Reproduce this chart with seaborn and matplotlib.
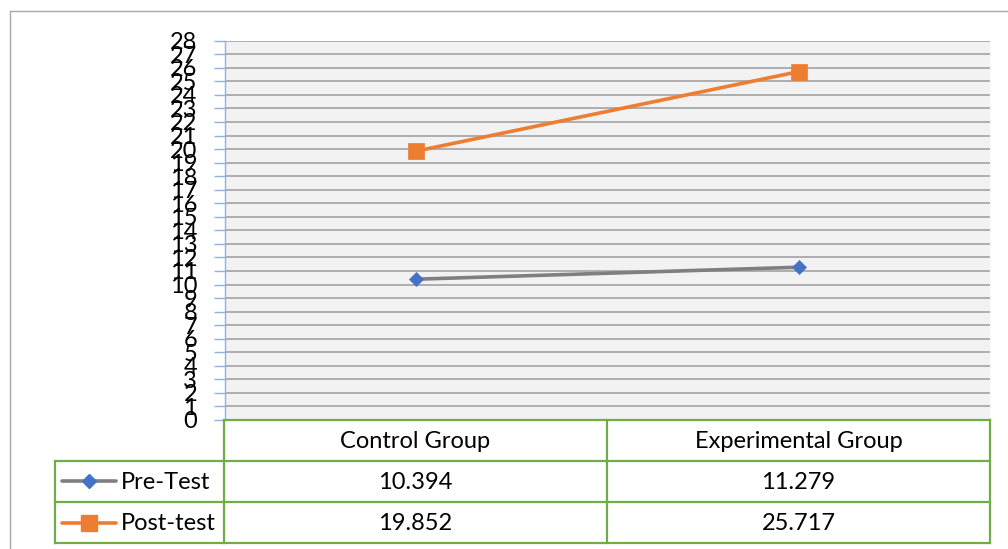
import matplotlib
matplotlib.use("Agg")
import matplotlib.pyplot as plt
import seaborn as sns
import pandas as pd

categories = ["Control Group", "Experimental Group"]
pre_test = [10.394, 11.279]
post_test = [19.852, 25.717]
series_names = ["Pre-Test", "Post-test"]
value_labels = [["10.394", "11.279"], ["19.852", "25.717"]]
y_ticks = list(range(0, 29))

sns.set_theme(style="white")
plt.rcParams["font.family"] = ["Lato", "DejaVu Sans"]

W, H = 1008, 549
fig = plt.figure(figsize=(W / 100, H / 100), dpi=100)

# pixel layout
L, R, T, B = 225, 990, 40.7, 420
ax = fig.add_axes([L / W, 1 - B / H, (R - L) / W, (B - T) / H])
ax.set_facecolor("#f2f2f2")

GREY = "#7f7f7f"
BLUE = "#4472c4"
ORANGE = "#ed7d31"
GREEN = "#70ad47"

df_pre = pd.DataFrame({"group": categories, "score": pre_test})
df_post = pd.DataFrame({"group": categories, "score": post_test})

sns.lineplot(data=df_pre, x="group", y="score", ax=ax, color=GREY, lw=2.6,
             marker="D", markersize=7.5, markerfacecolor=BLUE,
             markeredgecolor=BLUE, markeredgewidth=0.5, zorder=3)
sns.lineplot(data=df_post, x="group", y="score", ax=ax, color=ORANGE, lw=2.6,
             marker="s", markersize=12, markerfacecolor=ORANGE,
             markeredgecolor=ORANGE, markeredgewidth=0.5, zorder=3)

ax.set_xlim(-0.5, 1.5)
ax.set_ylim(0, 28)
ax.set_yticks(y_ticks)
ax.set_yticklabels([str(t) for t in y_ticks], fontsize=17, color="black")
ax.set_xticks([])
ax.set_xlabel("")
ax.set_ylabel("")
ax.grid(axis="y", color="#a2a2a2", lw=1.2)
ax.set_axisbelow(True)
for s in ["top", "right", "bottom"]:
    ax.spines[s].set_visible(False)
ax.spines["left"].set_color("#8db3e2")
ax.spines["left"].set_linewidth(1.0)
ax.tick_params(axis="y", length=8, width=1.0, color="#8db3e2", pad=12,
               left=True, direction="out")

# overlay in pixel coords for table and frame
ov = fig.add_axes([0, 0, 1, 1], facecolor="none")
ov.set_xlim(0, W)
ov.set_ylim(H, 0)
ov.axis("off")

# outer chart frame
ov.plot([10, 10], [11, H + 5], color="#a6a6a6", lw=1.0)
ov.plot([10, W + 5], [11, 11], color="#a6a6a6", lw=1.0)

# data table
c0, c1, c2, c3 = 55, 224, 607, 990
r0, r1, r2, r3 = 420, 460.5, 502, 543
lk = dict(color=GREEN, lw=1.6, solid_capstyle="projecting")
ov.plot([c1, c3], [r0, r0], **lk)
ov.plot([c0, c3], [r1, r1], **lk)
ov.plot([c0, c3], [r2, r2], **lk)
ov.plot([c0, c3], [r3, r3], **lk)
ov.plot([c0, c0], [r1, r3], **lk)
ov.plot([c1, c1], [r0, r3], **lk)
ov.plot([c2, c2], [r0, r3], **lk)
ov.plot([c3, c3], [r0, r3], **lk)

fs = 17
for i, cat in enumerate(categories):
    cx = (c1 + c2) / 2 if i == 0 else (c2 + c3) / 2
    ov.text(cx, (r0 + r1) / 2 + 1, cat, ha="center", va="center", fontsize=fs, color="black")
    for j in range(2):
        ry = (r1 + r2) / 2 if j == 0 else (r2 + r3) / 2
        ov.text(cx, ry + 1, value_labels[j][i], ha="center", va="center", fontsize=fs, color="black")

# legend keys
styles = [(GREY, "D", 7.5, BLUE), (ORANGE, "s", 12, ORANGE)]
for j, name in enumerate(series_names):
    ry = (r1 + r2) / 2 if j == 0 else (r2 + r3) / 2
    col, mk, ms, mfc = styles[j]
    ov.plot([62, 116], [ry, ry], color=col, lw=2.6)
    ov.plot([89], [ry], marker=mk, markersize=ms, color=mfc, markeredgecolor=mfc, lw=0)
    ov.text(121, ry + 1, name, ha="left", va="center", fontsize=fs, color="black")

fig.savefig("out.png", dpi=100, facecolor="white")
